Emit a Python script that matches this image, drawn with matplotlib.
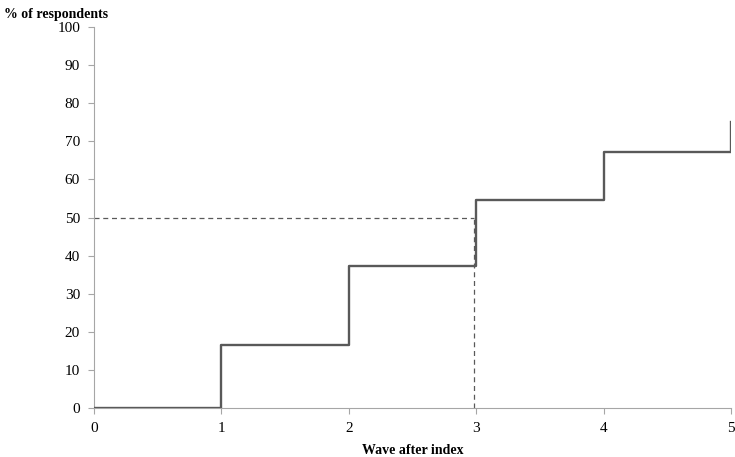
import matplotlib
matplotlib.use('Agg')
import matplotlib.pyplot as plt

# wave after index vs cumulative % of respondents
waves = [0, 1, 2, 3, 4, 5, 5]
pct = [0, 16.5, 37.3, 54.5, 67.3, 67.3, 75]
median_wave = 2.98
median_pct = 50

plt.rcParams['font.family'] = ['Liberation Serif', 'DejaVu Serif']

fig = plt.figure(figsize=(7.35, 4.57), dpi=100)
ax = fig.add_axes([0.1279, 0.1072, 0.8667, 0.8337])

ax.step(waves, pct, where='post', color='#595959', lw=1.7, zorder=3)
ax.plot([0, median_wave], [median_pct, median_pct], ls=(0, (4, 3)), color='#595959', lw=0.9)
ax.plot([median_wave, median_wave], [0, median_pct], ls=(0, (4, 3)), color='#595959', lw=0.9)

ax.set_xlim(0, 5)
ax.set_ylim(0, 100)
ax.set_xticks(range(6))
ax.set_yticks(range(0, 101, 10))
ax.tick_params(labelsize=11, color='#a6a6a6', length=4, width=0.8)
ax.tick_params(axis='y', pad=6)
ax.tick_params(axis='x', pad=6)
for s in ['top', 'right']:
    ax.spines[s].set_visible(False)
for s in ['left', 'bottom']:
    ax.spines[s].set_color('#a6a6a6')
    ax.spines[s].set_linewidth(0.8)

fig.text(0.006, 0.969, '% of respondents', fontsize=10, fontweight='bold', va='center')
fig.text(0.561, 0.0153, 'Wave after index', fontsize=10, fontweight='bold', ha='center', va='center')

fig.savefig('out.png', dpi=100)
